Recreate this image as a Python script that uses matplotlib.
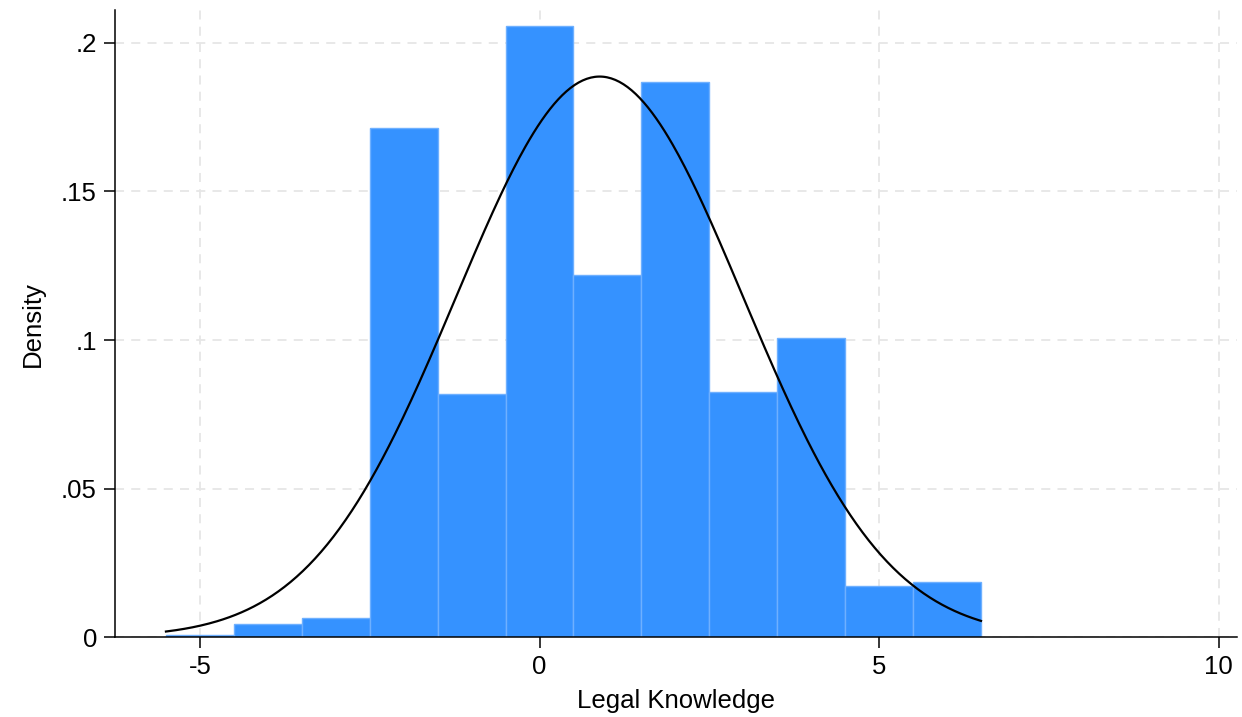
import numpy as np
import matplotlib.pyplot as plt

plt.rcParams["font.family"] = ["Liberation Sans", "DejaVu Sans"]
plt.rcParams["axes.unicode_minus"] = False

# histogram bins (width 1) and densities
bin_left = [-5.5, -4.5, -3.5, -2.5, -1.5, -0.5, 0.5, 1.5, 2.5, 3.5, 4.5, 5.5]
density = [0.0007, 0.0044, 0.0065, 0.1714, 0.0819, 0.2057, 0.1220, 0.1868, 0.0826, 0.1008, 0.0172, 0.0187]
bin_width = 1.0

# normal overlay parameters
mu = 0.885
sigma = 2.115

xticks = [-5, 0, 5, 10]
yticks = [0, 0.05, 0.1, 0.15, 0.2]
ytick_labels = ["0", ".05", ".1", ".15", ".2"]

fig = plt.figure(figsize=(12.42, 7.17), dpi=100)
ax = fig.add_axes([0.0926, 0.111, 0.9034, 0.875])

ax.bar(bin_left, density, width=bin_width, align="edge", color="#3592ff",
       edgecolor="#6eb0ff", linewidth=1, zorder=2)

xs = np.linspace(bin_left[0], bin_left[-1] + bin_width, 400)
ys = np.exp(-0.5 * ((xs - mu) / sigma) ** 2) / (sigma * np.sqrt(2 * np.pi))
ax.plot(xs, ys, color="black", linewidth=1.6, zorder=3)

ax.set_xlim(-6.25, 10.27)
ax.set_ylim(0, 0.211)
ax.set_xticks(xticks)
ax.set_yticks(yticks)
ax.set_yticklabels(ytick_labels)

ax.grid(True, linestyle=(0, (5, 4)), color="#e6e6e6", linewidth=1.3, zorder=0)
ax.set_axisbelow(True)

for s in ["top", "right"]:
    ax.spines[s].set_visible(False)
for s in ["left", "bottom"]:
    ax.spines[s].set_linewidth(1.1)
ax.tick_params(length=8, width=1.1, labelsize=18.5, pad=5)

ax.set_xlabel("Legal Knowledge", fontsize=18.5, labelpad=7)
ax.set_ylabel("Density", fontsize=18.5, labelpad=12)

fig.savefig("out.png", dpi=100)
